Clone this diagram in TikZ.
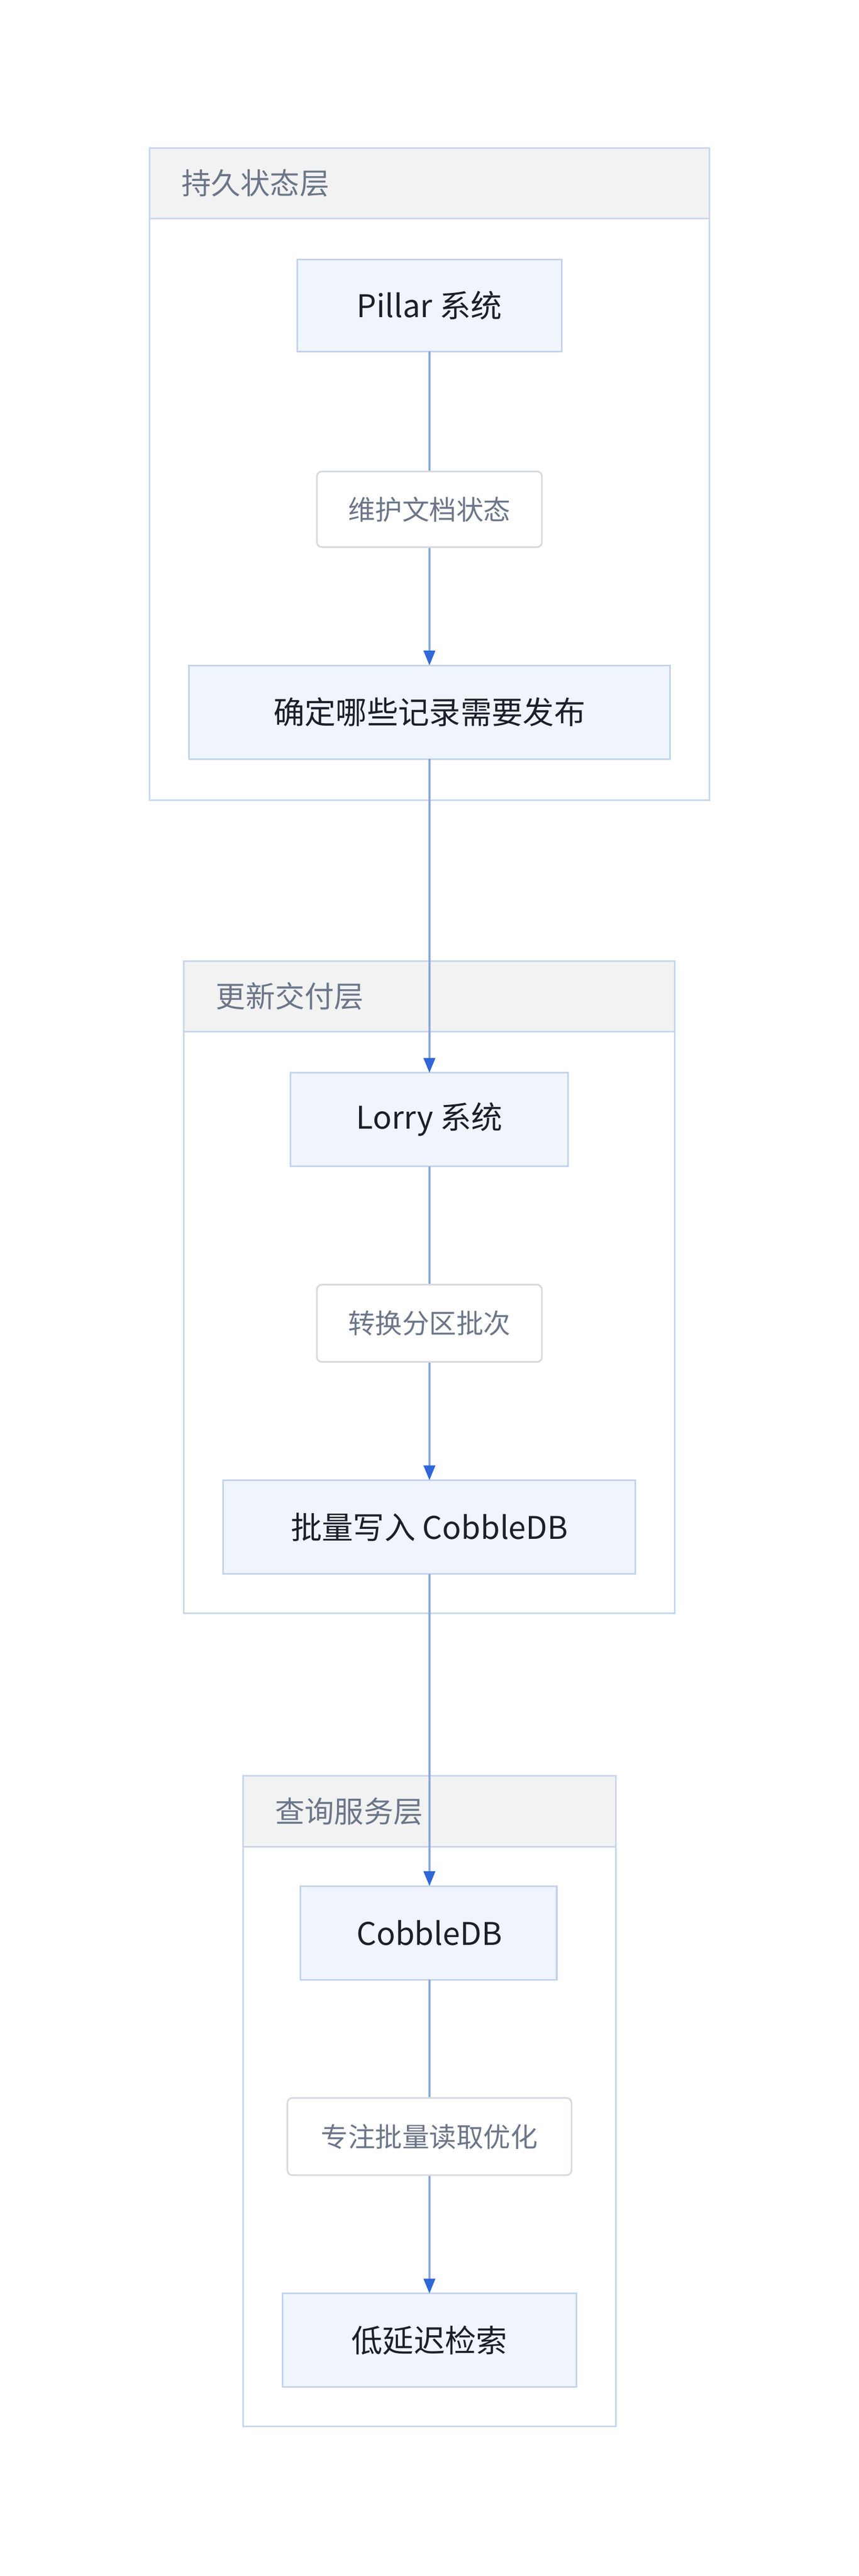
\documentclass[tikz,border=0pt]{standalone}
\usepackage{fontspec}
\setmainfont{Noto Sans CJK SC}
\usetikzlibrary{arrows.meta}
\definecolor{nfill}{HTML}{F0F5FD}
\definecolor{nbord}{HTML}{C3D3EE}
\definecolor{gbord}{HTML}{C8D6EE}
\definecolor{hfill}{HTML}{F2F2F2}
\definecolor{lbord}{HTML}{D6D9DE}
\definecolor{ltext}{HTML}{6B7689}
\definecolor{ntext}{HTML}{1A1F2B}
\definecolor{edge}{HTML}{8AA8E2}
\definecolor{tip}{HTML}{2F66D8}
\begin{document}
\begin{tikzpicture}[x=1pt,y=-1pt,
  grp/.style={draw=gbord,line width=1pt},
  hdr/.style={draw=gbord,fill=hfill,line width=1pt},
  htxt/.style={anchor=west,text=ltext,font=\fontsize{18}{20}\selectfont},
  box/.style={draw=nbord,fill=nfill,line width=1pt,text=ntext,font=\fontsize{19}{22}\selectfont},
  lbl/.style={draw=lbord,fill=white,rounded corners=3pt,line width=1pt,text=ltext,font=\fontsize{16.5}{19}\selectfont},
  ln/.style={draw=edge,line width=1.2pt},
  ar/.style={ln,-{Triangle[length=9pt,width=7pt,color=tip]}}]
\useasboundingbox (0,0) rectangle (523,1568);
\fill[white] (0,0) rectangle (523,1568);
% groups
\draw[grp] (91,90) rectangle (432,487);
\draw[hdr] (91,90) rectangle (432,133);
\node[htxt] (h1) at (107,111.5) {持久状态层};
\draw[grp] (112,585) rectangle (411,982);
\draw[hdr] (112,585) rectangle (411,628);
\node[htxt] (h2) at (128,606.5) {更新交付层};
\draw[grp] (148,1081) rectangle (375,1477);
\draw[hdr] (148,1081) rectangle (375,1124);
\node[htxt] (h3) at (164,1102.5) {查询服务层};
% nodes
\def\cx{261.5}
\path[box] (181,158) rectangle (342,214); \node[text=ntext,font=\fontsize{19}{22}\selectfont] (p) at (\cx,186) {Pillar 系统};
\coordinate (pt) at (\cx,158); \coordinate (pb) at (\cx,214);
\path[box] (115,405) rectangle (408,462); \node[text=ntext,font=\fontsize{19}{22}\selectfont] (q) at (\cx,433.5) {确定哪些记录需要发布};
\coordinate (qt) at (\cx,405); \coordinate (qb) at (\cx,462);
\path[box] (177,653) rectangle (346,710); \node[text=ntext,font=\fontsize{19}{22}\selectfont] (l) at (\cx,681.5) {Lorry 系统};
\coordinate (lt) at (\cx,653); \coordinate (lb) at (\cx,710);
\path[box] (136,901) rectangle (387,958); \node[text=ntext,font=\fontsize{19}{22}\selectfont] (w) at (\cx,929.5) {批量写入 CobbleDB};
\coordinate (wt) at (\cx,901); \coordinate (wb) at (\cx,958);
\path[box] (183,1148) rectangle (339,1205); \node[text=ntext,font=\fontsize{19}{22}\selectfont] (c) at (\cx,1176.5) {CobbleDB};
\coordinate (ct) at (\cx,1148); \coordinate (cb) at (\cx,1205);
\path[box] (172,1396) rectangle (351,1453); \node[text=ntext,font=\fontsize{19}{22}\selectfont] (r) at (\cx,1424.5) {低延迟检索};
\coordinate (rt) at (\cx,1396);
% edges
\draw[ln] (pb) -- (\cx,287);
\draw[ar] (\cx,333) -- (qt);
\draw[ar] (qb) -- (lt);
\draw[ln] (lb) -- (\cx,782);
\draw[ar] (\cx,829) -- (wt);
\draw[ar] (wb) -- (ct);
\draw[ln] (cb) -- (\cx,1277);
\draw[ar] (\cx,1324) -- (rt);
% labels
\node[lbl,minimum width=137pt,minimum height=46pt] (e1) at (\cx,310) {维护文档状态};
\node[lbl,minimum width=137pt,minimum height=47pt] (e2) at (\cx,805.5) {转换分区批次};
\node[lbl,minimum width=173pt,minimum height=47pt] (e3) at (\cx,1300.5) {专注批量读取优化};
\end{tikzpicture}
\end{document}
